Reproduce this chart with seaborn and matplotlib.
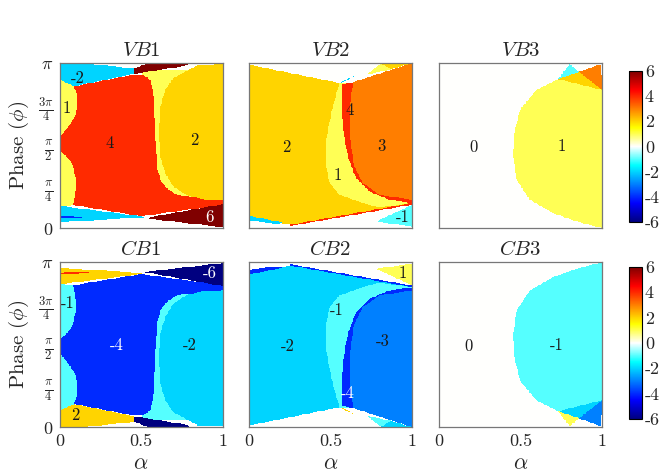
import numpy as np
import matplotlib
matplotlib.use("Agg")
import matplotlib.pyplot as plt
from matplotlib.path import Path
from matplotlib.colors import LinearSegmentedColormap
import seaborn as sns

# ---------------------------------------------------------------------------
# Axis ticks and labels
# ---------------------------------------------------------------------------
alpha_ticks = [0.0, 0.5, 1.0]
alpha_ticklabels = ["0", "0.5", "1"]
phase_ticks = [0.0, 0.25, 0.5, 0.75, 1.0]          # in units of pi
phase_ticklabels = [r"$0$", r"$\frac{\pi}{4}$", r"$\frac{\pi}{2}$",
                    r"$\frac{3\pi}{4}$", r"$\pi$"]
cbar_ticks = [6, 4, 2, 0, -2, -4, -6]
cbar_ticklabels = ["6", "4", "2", "0", "-2", "-4", "-6"]

band_titles = [r"$VB1$", r"$VB2$", r"$VB3$", r"$CB1$", r"$CB2$", r"$CB3$"]

# ---------------------------------------------------------------------------
# Chern-number phase regions: (value, polygon in (alpha, phi/pi)) painted in order
# ---------------------------------------------------------------------------
vb1_regions = [
    (1, [(0.50, 0.96), (1.0, 0.96), (1.0, 0.15), (0.60, 0.20)]),
    (-2, [(0.0, 1.0), (0.15, 1.0), (0.455, 0.968), (0.46, 0.935), (0.086, 0.859),
          (0.0, 0.88)]),
    (-2, [(0.0, 0.135), (0.50, 0.072), (0.52, 0.066), (0.0, 0.035)]),
    (-4, [(0.0, 0.075), (0.14, 0.068), (0.14, 0.060), (0.0, 0.062)]),
    (1, [(0.0, 0.90), (0.09, 0.86), (0.13, 0.80), (0.13, 0.14), (0.085, 0.14), (0.0, 0.13)]),
    (4, [(0.086, 0.859), (0.455, 0.93), (0.52, 0.925), (0.555, 0.90), (0.568, 0.86),
         (0.582, 0.74), (0.588, 0.54), (0.598, 0.37), (0.62, 0.29), (0.66, 0.24),
         (0.72, 0.20), (1.0, 0.175), (1.0, 0.14), (0.50, 0.072), (0.082, 0.141),
         (0.096, 0.192), (0.102, 0.293), (0.076, 0.394), (0.035, 0.444), (0.0, 0.465),
         (0.0, 0.556), (0.014, 0.566), (0.055, 0.616), (0.096, 0.677), (0.111, 0.768),
         (0.10, 0.83)]),
    (2, [(0.70, 0.91), (0.65, 0.84), (0.62, 0.74), (0.61, 0.62), (0.61, 0.535),
         (0.62, 0.43), (0.65, 0.33), (0.70, 0.25), (0.78, 0.20), (0.885, 0.175),
         (1.0, 0.17), (1.0, 0.995), (0.85, 0.99)]),
    (6, [(0.46, 0.935), (0.46, 0.968), (0.54, 1.0), (0.80, 1.0), (0.78, 0.985)]),
    (6, [(0.52, 0.06), (1.0, 0.145), (1.0, 0.006)]),
]
vb1_labels = [("-2", 0.11, 0.91, "k"), ("1", 0.045, 0.727, "k"), ("4", 0.31, 0.515, "k"),
              ("2", 0.83, 0.533, "k"), ("6", 0.92, 0.067, "w")]

vb2_regions = [
    (2, [(0.0, 0.99), (0.555, 0.88), (1.0, 0.88), (1.0, 0.152), (0.25, 0.02), (0.0, 0.075)]),
    (-2, [(0.0, 0.075), (0.20, 0.035), (0.18, 0.025), (0.0, 0.045)]),
    (1, [(0.555, 0.88), (0.504, 0.697), (0.473, 0.535), (0.473, 0.374), (0.494, 0.273),
         (0.555, 0.202), (0.698, 0.152), (0.80, 0.125), (1.0, 0.152), (1.0, 0.88)]),
    (4, [(0.57, 0.87), (0.64, 0.885), (0.616, 0.737), (0.62, 0.535), (0.647, 0.374),
         (0.698, 0.273), (0.80, 0.202), (1.0, 0.172), (1.0, 0.152), (0.861, 0.172),
         (0.739, 0.222), (0.657, 0.303), (0.606, 0.434), (0.58, 0.576), (0.571, 0.737)]),
    (3, [(0.64, 0.885), (1.0, 1.0), (1.0, 0.172), (0.80, 0.202), (0.698, 0.273),
         (0.647, 0.374), (0.62, 0.535), (0.616, 0.737)]),
    (1, [(0.72, 0.93), (0.81, 0.998), (0.87, 0.962)]),
    (2, [(0.81, 0.998), (1.0, 1.0), (0.87, 0.962)]),
    (-2, [(0.555, 0.88), (0.66, 0.93), (0.60, 0.895)]),
    (4, [(0.25, 0.02), (1.0, 0.152), (1.0, 0.142), (0.25, 0.012)]),
    (-1, [(0.78, 0.04), (1.0, 0.141), (1.0, 0.01)]),
]
vb2_labels = [("2", 0.227, 0.491, "k"), ("4", 0.62, 0.715, "k"), ("3", 0.814, 0.493, "k"),
              ("1", 0.546, 0.321, "k"), ("-1", 0.945, 0.067, "k")]

vb3_regions = [
    (1, [(0.731, 0.903), (0.598, 0.838), (0.496, 0.717), (0.461, 0.576), (0.455, 0.434),
         (0.476, 0.293), (0.557, 0.172), (0.70, 0.091), (0.843, 0.04), (1.0, 0.0),
         (1.0, 0.838)]),
    (-1, [(0.731, 0.903), (0.802, 0.995), (0.859, 0.947)]),
    (2, [(0.731, 0.903), (0.859, 0.947), (1.0, 0.838)]),
    (3, [(0.859, 0.947), (0.996, 0.995), (1.0, 0.838)]),
]
vb3_labels = [("0", 0.209, 0.491, "k"), ("1", 0.753, 0.493, "k")]

cb1_regions = [
    (-1, [(0.50, 0.04), (1.0, 0.04), (1.0, 0.85), (0.60, 0.80)]),
    (2, [(0.0, 0.0), (0.15, 0.0), (0.455, 0.032), (0.46, 0.065), (0.086, 0.141),
         (0.0, 0.12)]),
    (2, [(0.0, 0.865), (0.50, 0.928), (0.52, 0.934), (0.0, 0.965)]),
    (4, [(0.0, 0.925), (0.18, 0.932), (0.18, 0.942), (0.0, 0.938)]),
    (-1, [(0.0, 0.10), (0.09, 0.14), (0.13, 0.20), (0.13, 0.86), (0.085, 0.86), (0.0, 0.87)]),
    (-4, [(0.086, 0.141), (0.455, 0.07), (0.52, 0.075), (0.555, 0.10), (0.568, 0.14),
          (0.582, 0.26), (0.588, 0.46), (0.598, 0.63), (0.62, 0.71), (0.66, 0.76),
          (0.72, 0.80), (1.0, 0.825), (1.0, 0.86), (0.50, 0.928), (0.082, 0.859),
          (0.096, 0.808), (0.102, 0.707), (0.076, 0.606), (0.035, 0.556), (0.0, 0.535),
          (0.0, 0.444), (0.014, 0.434), (0.055, 0.384), (0.096, 0.323), (0.111, 0.232),
          (0.10, 0.17)]),
    (-2, [(0.70, 0.09), (0.65, 0.16), (0.62, 0.26), (0.61, 0.38), (0.61, 0.465),
          (0.62, 0.57), (0.65, 0.67), (0.70, 0.75), (0.78, 0.80), (0.885, 0.825),
          (1.0, 0.83), (1.0, 0.005), (0.85, 0.01)]),
    (-6, [(0.46, 0.065), (0.46, 0.032), (0.54, 0.0), (0.80, 0.0), (0.78, 0.015)]),
    (-6, [(0.52, 0.94), (1.0, 0.855), (1.0, 0.994)]),
]
cb1_labels = [("-1", 0.052, 0.752, "k"), ("-4", 0.353, 0.497, "w"), ("-2", 0.80, 0.497, "k"),
              ("-6", 0.923, 0.933, "w"), ("2", 0.095, 0.073, "k")]

cb2_regions = [
    (-2, [(0.0, 0.01), (0.555, 0.12), (1.0, 0.12), (1.0, 0.848), (0.25, 0.98), (0.0, 0.925)]),
    (-4, [(0.0, 0.925), (0.20, 0.965), (0.18, 0.975), (0.0, 0.955)]),
    (-1, [(0.555, 0.12), (0.504, 0.303), (0.473, 0.465), (0.473, 0.626), (0.494, 0.727),
          (0.555, 0.798), (0.698, 0.848), (0.80, 0.875), (1.0, 0.848), (1.0, 0.12)]),
    (-4, [(0.57, 0.13), (0.64, 0.115), (0.616, 0.263), (0.62, 0.465), (0.647, 0.626),
          (0.698, 0.727), (0.80, 0.798), (1.0, 0.828), (1.0, 0.848), (0.861, 0.828),
          (0.739, 0.778), (0.657, 0.697), (0.606, 0.566), (0.58, 0.424), (0.571, 0.263)]),
    (-3, [(0.64, 0.115), (1.0, 0.0), (1.0, 0.828), (0.80, 0.798), (0.698, 0.727),
          (0.647, 0.626), (0.62, 0.465), (0.616, 0.263)]),
    (-1, [(0.72, 0.07), (0.81, 0.002), (0.87, 0.038)]),
    (-2, [(0.81, 0.002), (1.0, 0.0), (0.87, 0.038)]),
    (2, [(0.555, 0.12), (0.66, 0.07), (0.60, 0.105)]),
    (-4, [(0.25, 0.98), (1.0, 0.848), (1.0, 0.858), (0.25, 0.988)]),
    (1, [(0.78, 0.96), (1.0, 0.859), (1.0, 0.99)]),
]
cb2_labels = [("-1", 0.538, 0.709, "k"), ("-2", 0.239, 0.487, "k"), ("-3", 0.822, 0.517, "k"),
              ("1", 0.945, 0.933, "k"), ("-4", 0.607, 0.206, "w")]

cb3_regions = [
    (-1, [(0.731, 0.097), (0.598, 0.162), (0.496, 0.283), (0.461, 0.424), (0.455, 0.566),
          (0.476, 0.707), (0.557, 0.828), (0.70, 0.909), (0.843, 0.96), (1.0, 1.0),
          (1.0, 0.162)]),
    (1, [(0.731, 0.097), (0.802, 0.005), (0.859, 0.053)]),
    (-2, [(0.731, 0.097), (0.859, 0.053), (1.0, 0.162)]),
    (-3, [(0.859, 0.053), (0.996, 0.005), (1.0, 0.162)]),
]
cb3_labels = [("0", 0.178, 0.487, "k"), ("-1", 0.723, 0.497, "k")]

panel_regions = [vb1_regions, vb2_regions, vb3_regions, cb1_regions, cb2_regions, cb3_regions]
panel_labels = [vb1_labels, vb2_labels, vb3_labels, cb1_labels, cb2_labels, cb3_labels]

# ---------------------------------------------------------------------------
# Style
# ---------------------------------------------------------------------------
sns.set_theme(style="white")
plt.rcParams["mathtext.fontset"] = "cm"
plt.rcParams["axes.unicode_minus"] = False
plt.rcParams["font.family"] = ["cmr10", "DejaVu Serif"]

# jet colour map with the green middle replaced by white at zero
chern_cmap = LinearSegmentedColormap.from_list(
    "jet_white",
    [(0.0, (0.0, 0.0, 0.5)), (0.125, (0.0, 0.0, 1.0)), (0.375, (0.0, 1.0, 1.0)),
     (0.5, (1.0, 1.0, 1.0)), (0.625, (1.0, 1.0, 0.0)), (0.875, (1.0, 0.0, 0.0)),
     (1.0, (0.5, 0.0, 0.0))], N=512)

N = 220
centers = (np.arange(N) + 0.5) / N
A, P = np.meshgrid(centers, centers)
points = np.column_stack([A.ravel(), P.ravel()])


def rasterize(regions):
    grid = np.zeros(A.shape)
    for value, verts in regions:
        inside = Path(verts).contains_points(points).reshape(A.shape)
        grid[inside] = value
    return np.flipud(grid)   # first row = phase pi


W, H = 661, 476
fig = plt.figure(figsize=(W / 100, H / 100), dpi=100)
col_left = [59.5, 249.0, 439.0]
row_top = [63.0, 262.0]
ax_w, ax_h = 163.0, 165.0
cbar_boxes = [(629.0, 71.0, 13.0, 151.0), (629.0, 267.0, 13.0, 152.0)]

for k in range(6):
    r, c = divmod(k, 3)
    x0, y0 = col_left[c], row_top[r]
    ax = fig.add_axes([x0 / W, 1 - (y0 + ax_h) / H, ax_w / W, ax_h / H])
    cax = None
    if c == 2:
        bx, by, bw, bh = cbar_boxes[r]
        cax = fig.add_axes([bx / W, 1 - (by + bh) / H, bw / W, bh / H])
    sns.heatmap(rasterize(panel_regions[k]), ax=ax, cmap=chern_cmap, vmin=-6, vmax=6,
                cbar=cax is not None, cbar_ax=cax, xticklabels=False, yticklabels=False,
                rasterized=True)
    ax.set_xlim(0, N)
    ax.set_ylim(N, 0)
    for s in ax.spines.values():
        s.set_visible(True)
        s.set_color("#777777")
        s.set_linewidth(0.9)
    ax.tick_params(length=0, pad=4.5)
    if r == 1:
        ax.set_xticks([t * N for t in alpha_ticks])
        ax.set_xticklabels(alpha_ticklabels, fontsize=13, rotation=0)
        ax.set_xlabel(r"$\alpha$", fontsize=16, labelpad=4)
    else:
        ax.set_xticks([])
    if c == 0:
        ax.set_yticks([(1 - t) * N for t in phase_ticks])
        ax.set_yticklabels(phase_ticklabels, fontsize=13, rotation=0)
        ax.set_ylabel(r"Phase ($\phi$)", fontsize=15)
        ax.yaxis.set_label_coords(-0.175, 0.5)
    else:
        ax.set_yticks([])
    ax.set_title(band_titles[k], fontsize=15, pad=5)
    for text, a, p, color in panel_labels[k]:
        ax.text(a * N, (1 - p) * N, text, color=color, fontsize=12,
                ha="center", va="center")
    if cax is not None:
        cb = ax.collections[0].colorbar
        cb.set_ticks(cbar_ticks)
        cb.set_ticklabels(cbar_ticklabels)
        cb.outline.set_visible(True)
        cb.outline.set_linewidth(0.8)
        cb.outline.set_edgecolor("black")
        cax.tick_params(length=0, labelsize=13, pad=2)

fig.savefig("out.png", dpi=100)
